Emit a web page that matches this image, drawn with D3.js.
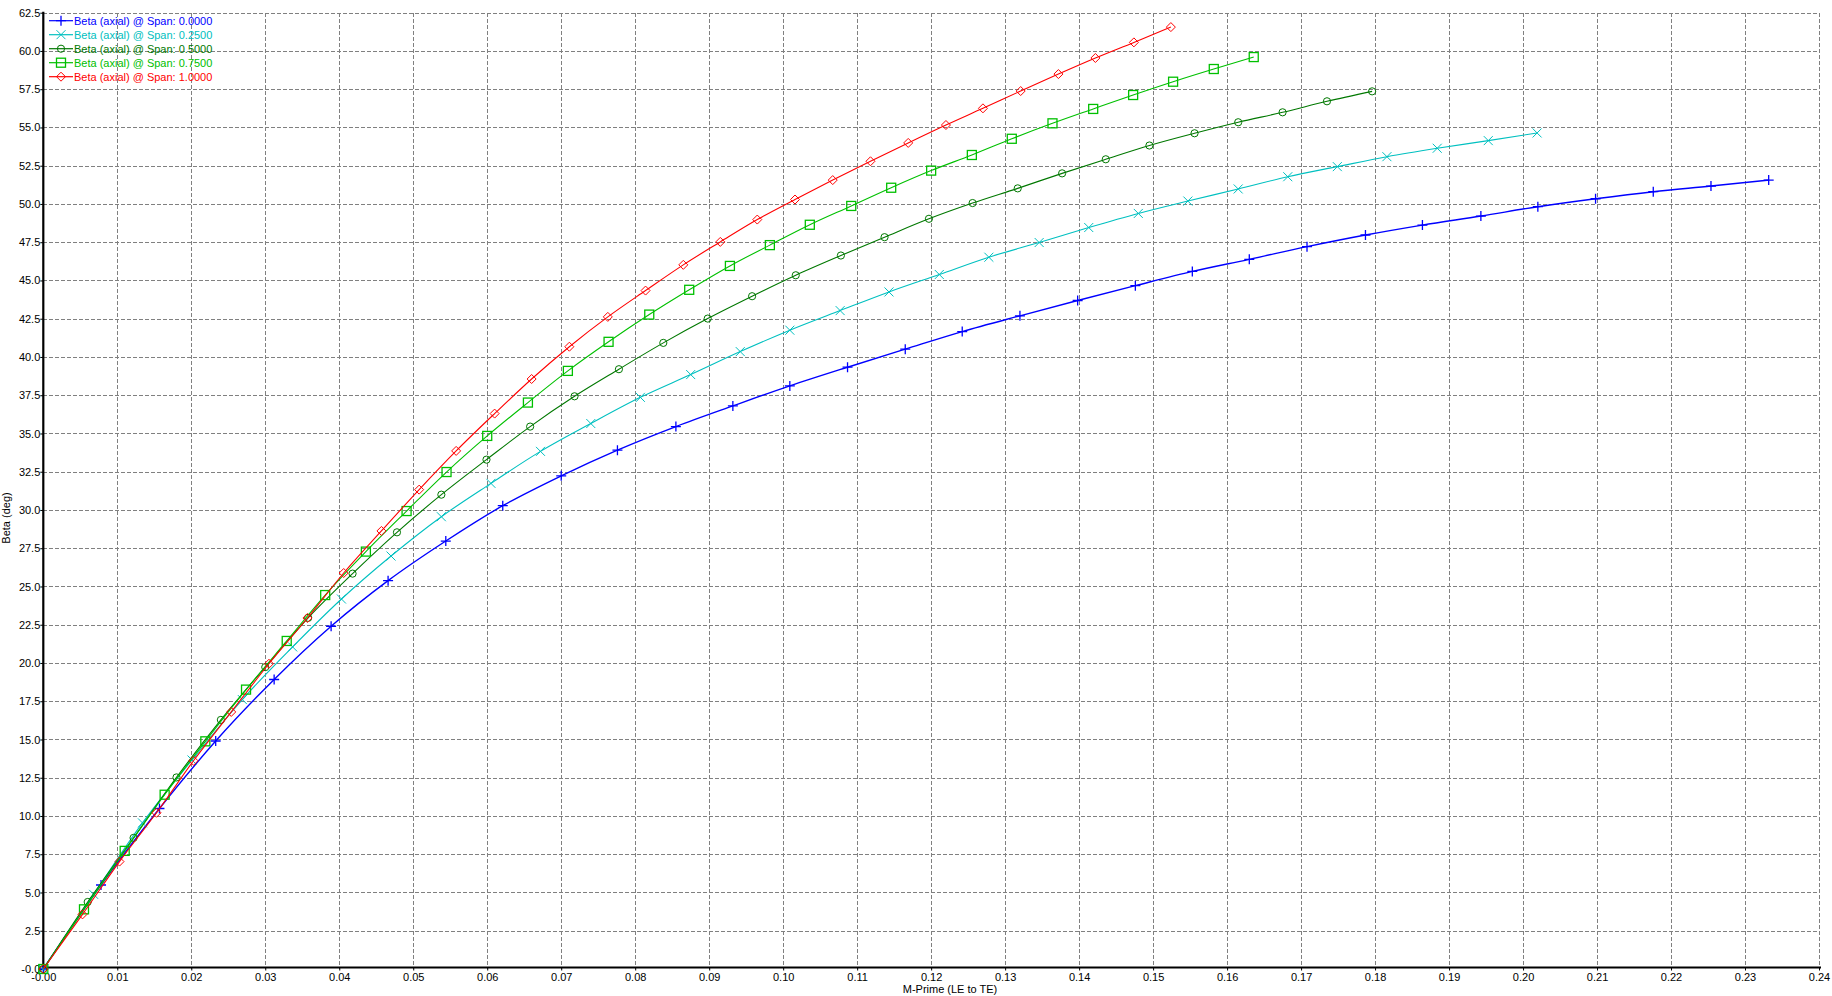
<!DOCTYPE html>
<html>
<head>
<meta charset="utf-8">
<script src="https://cdn.jsdelivr.net/npm/d3@7"></script>
<style>
  html, body { margin: 0; padding: 0; background: #fff; }
  svg { display: block; }
  text { font-family: "Liberation Sans", Arial, sans-serif; }
</style>
</head>
<body>
<svg id="chart" width="1832" height="996"></svg>
<script>
// ---------------- DATA ----------------
const seriesNames = [
  "Beta (axial) @ Span: 0.0000",
  "Beta (axial) @ Span: 0.2500",
  "Beta (axial) @ Span: 0.5000",
  "Beta (axial) @ Span: 0.7500",
  "Beta (axial) @ Span: 1.0000"
];

const span000_x = [0, 0.0078, 0.0157, 0.0233, 0.0312, 0.0389, 0.0466, 0.0544, 0.0621, 0.0700, 0.0776, 0.0855, 0.0932, 0.1009, 0.1087, 0.1165, 0.1242, 0.1320, 0.1398, 0.1476, 0.1553, 0.1630, 0.1708, 0.1787, 0.1864, 0.1943, 0.2020, 0.2098, 0.2176, 0.2254, 0.2332];
const span000_y = [0, 5.49, 10.49, 14.90, 18.92, 22.40, 25.38, 27.97, 30.28, 32.23, 33.91, 35.45, 36.80, 38.11, 39.33, 40.51, 41.66, 42.69, 43.69, 44.66, 45.59, 46.38, 47.21, 47.97, 48.62, 49.21, 49.82, 50.34, 50.80, 51.17, 51.56];

const span025_x = [0, 0.0068, 0.0134, 0.0201, 0.0269, 0.0337, 0.0403, 0.0470, 0.0538, 0.0605, 0.0672, 0.0740, 0.0807, 0.0875, 0.0942, 0.1009, 0.1077, 0.1143, 0.1211, 0.1278, 0.1346, 0.1413, 0.1480, 0.1547, 0.1615, 0.1682, 0.1749, 0.1816, 0.1884, 0.1953, 0.2019];
const span025_y = [0, 4.88, 9.55, 13.66, 17.61, 21.05, 24.18, 26.99, 29.56, 31.74, 33.83, 35.65, 37.36, 38.85, 40.35, 41.75, 43.03, 44.25, 45.39, 46.52, 47.48, 48.46, 49.38, 50.19, 50.98, 51.78, 52.44, 53.09, 53.64, 54.14, 54.64];

const span050_x = [0, 0.0060, 0.0122, 0.0180, 0.0240, 0.0300, 0.0358, 0.0418, 0.0478, 0.0538, 0.0599, 0.0658, 0.0718, 0.0778, 0.0838, 0.0898, 0.0958, 0.1017, 0.1078, 0.1137, 0.1197, 0.1256, 0.1317, 0.1377, 0.1436, 0.1495, 0.1556, 0.1615, 0.1675, 0.1735, 0.1796];
const span050_y = [0, 4.38, 8.57, 12.52, 16.28, 19.73, 22.95, 25.84, 28.54, 31.00, 33.29, 35.45, 37.43, 39.20, 40.92, 42.51, 43.97, 45.34, 46.63, 47.83, 49.03, 50.06, 51.02, 52.00, 52.92, 53.82, 54.62, 55.34, 55.99, 56.71, 57.36];

const span075_x = [0, 0.0055, 0.0110, 0.0164, 0.0219, 0.0274, 0.0329, 0.0381, 0.0436, 0.0491, 0.0545, 0.0600, 0.0655, 0.0709, 0.0764, 0.0819, 0.0873, 0.0928, 0.0982, 0.1036, 0.1092, 0.1146, 0.1200, 0.1255, 0.1309, 0.1364, 0.1419, 0.1473, 0.1527, 0.1582, 0.1636];
const span075_y = [0, 3.90, 7.72, 11.39, 14.88, 18.26, 21.44, 24.44, 27.28, 29.93, 32.48, 34.84, 37.02, 39.09, 40.99, 42.77, 44.39, 45.95, 47.31, 48.64, 49.87, 51.06, 52.18, 53.20, 54.26, 55.27, 56.21, 57.12, 57.99, 58.82, 59.60];

const span100_x = [0, 0.0053, 0.0103, 0.0153, 0.0203, 0.0254, 0.0305, 0.0357, 0.0406, 0.0457, 0.0508, 0.0558, 0.0610, 0.0660, 0.0711, 0.0763, 0.0814, 0.0865, 0.0915, 0.0965, 0.1016, 0.1067, 0.1118, 0.1169, 0.1220, 0.1270, 0.1321, 0.1372, 0.1422, 0.1474, 0.1524];
const span100_y = [0, 3.57, 7.02, 10.21, 13.61, 16.80, 19.95, 22.94, 25.88, 28.63, 31.33, 33.86, 36.30, 38.56, 40.67, 42.62, 44.34, 46.02, 47.52, 48.98, 50.29, 51.56, 52.79, 53.99, 55.16, 56.25, 57.38, 58.49, 59.54, 60.56, 61.56];

const xTickValues = [0, 0.01, 0.02, 0.03, 0.04, 0.05, 0.06, 0.07, 0.08, 0.09, 0.10, 0.11, 0.12, 0.13, 0.14, 0.15, 0.16, 0.17, 0.18, 0.19, 0.20, 0.21, 0.22, 0.23, 0.24];
const xTickLabels = ["-0.00", "0.01", "0.02", "0.03", "0.04", "0.05", "0.06", "0.07", "0.08", "0.09", "0.10", "0.11", "0.12", "0.13", "0.14", "0.15", "0.16", "0.17", "0.18", "0.19", "0.20", "0.21", "0.22", "0.23", "0.24"];
const yTickValues = [0, 2.5, 5, 7.5, 10, 12.5, 15, 17.5, 20, 22.5, 25, 27.5, 30, 32.5, 35, 37.5, 40, 42.5, 45, 47.5, 50, 52.5, 55, 57.5, 60, 62.5];
const yTickLabels = ["-0.0", "2.5", "5.0", "7.5", "10.0", "12.5", "15.0", "17.5", "20.0", "22.5", "25.0", "27.5", "30.0", "32.5", "35.0", "37.5", "40.0", "42.5", "45.0", "47.5", "50.0", "52.5", "55.0", "57.5", "60.0", "62.5"];

const xTitle = "M-Prime (LE to TE)";
const yTitle = "Beta (deg)";

// ---------------- STYLE ----------------
const colors = ["#0000ff", "#00c0c0", "#007800", "#00c000", "#ff0000"];
const markers = ["plus", "cross", "circle", "square", "diamond"];

const seriesX = [span000_x, span025_x, span050_x, span075_x, span100_x];
const seriesY = [span000_y, span025_y, span050_y, span075_y, span100_y];
const series = seriesNames.map((name, i) => ({
  name, color: colors[i], marker: markers[i],
  points: seriesX[i].map((xv, j) => ({ x: xv, y: seriesY[i][j] }))
}));

const svg = d3.select("#chart");
const plotLeft = 43.3, plotRight = 1819, plotTop = 12.7, plotBottom = 969;

const x = d3.scaleLinear().domain([0, 0.24]).range([plotLeft, plotRight]);
const y = d3.scaleLinear().domain([0, 62.5]).range([plotBottom, plotTop]);

// grid
const grid = svg.append("g").attr("stroke", "#808080").attr("stroke-width", 1)
  .attr("stroke-dasharray", "4,2").attr("shape-rendering", "crispEdges");
grid.selectAll("line.v").data(xTickValues.filter(v => v > 0)).enter().append("line")
  .attr("x1", d => Math.round(x(d)) + 0.5).attr("x2", d => Math.round(x(d)) + 0.5)
  .attr("y1", y(62.5)).attr("y2", y(0));
grid.selectAll("line.h").data(yTickValues.filter(v => v > 0)).enter().append("line")
  .attr("y1", d => Math.round(y(d)) + 0.5).attr("y2", d => Math.round(y(d)) + 0.5)
  .attr("x1", x(0)).attr("x2", x(0.24));

// axes
const xAxis = d3.axisBottom(x).tickValues(xTickValues)
  .tickFormat((d, i) => xTickLabels[i]).tickSize(3).tickSizeOuter(0).tickPadding(3);
const yAxis = d3.axisLeft(y).tickValues(yTickValues)
  .tickFormat((d, i) => yTickLabels[i]).tickSize(3).tickSizeOuter(0).tickPadding(0);

const gx = svg.append("g").attr("transform", `translate(0,${y(0) - 1.5})`).call(xAxis);
const gy = svg.append("g").attr("transform", `translate(${x(0)},0)`).call(yAxis);
[gx, gy].forEach(g => {
  g.select(".domain").attr("stroke", "#000").attr("stroke-width", 2.2);
  g.selectAll(".tick line").attr("stroke", "#000");
  g.selectAll(".tick text").attr("fill", "#000").style("font-size", "11px")
    .style("font-family", '"Liberation Sans", Arial, sans-serif');
});
gy.select(".domain").attr("d", `M0,${y(62.5) - 1}V${y(0)}`);
gx.select(".domain").attr("d", `M${x(0)},0H${x(0.24) + 2}`);

// titles
svg.append("text").attr("x", 950).attr("y", 993).attr("text-anchor", "middle")
  .style("font-size", "11px").attr("fill", "#000").text(xTitle);
svg.append("text").attr("transform", `translate(9.5,518) rotate(-90)`).attr("text-anchor", "middle")
  .style("font-size", "11px").attr("fill", "#000").text(yTitle);

// marker drawing
function drawMarker(sel, type, color) {
  if (type === "plus") {
    sel.append("path").attr("d", "M-5,0H5M0,-5V5").attr("stroke", color).attr("stroke-width", 1.3).attr("fill", "none");
  } else if (type === "cross") {
    sel.append("path").attr("d", "M-4.5,-4.5L4.5,4.5M-4.5,4.5L4.5,-4.5").attr("stroke", color).attr("stroke-width", 1).attr("fill", "none");
  } else if (type === "circle") {
    sel.append("circle").attr("r", 3.6).attr("stroke", color).attr("stroke-width", 1).attr("fill", "none");
  } else if (type === "square") {
    sel.append("rect").attr("x", -4.5).attr("y", -4.5).attr("width", 9).attr("height", 9)
      .attr("stroke", color).attr("stroke-width", 1.3).attr("fill", "none");
  } else if (type === "diamond") {
    sel.append("path").attr("d", "M0,-4.5L4.5,0L0,4.5L-4.5,0Z").attr("stroke", color).attr("stroke-width", 1).attr("fill", "none");
  }
}

// lines + markers
const line = d3.line().x(d => x(d.x)).y(d => y(d.y)).curve(d3.curveMonotoneX);
series.forEach((s, i) => {
  const g = svg.append("g");
  g.append("path").datum(s.points).attr("d", line).attr("fill", "none")
    .attr("stroke", s.color).attr("stroke-width", i === 0 ? 1.4 : 1.1);
  g.selectAll("g.m").data(s.points).enter().append("g")
    .attr("transform", d => `translate(${x(d.x)},${y(d.y)})`)
    .each(function () { drawMarker(d3.select(this), s.marker, s.color); });
});

// legend
const lg = svg.append("g");
series.forEach((s, i) => {
  const cy = 20.7 + i * 14;
  lg.append("line").attr("x1", 49).attr("x2", 73).attr("y1", cy).attr("y2", cy)
    .attr("stroke", s.color).attr("stroke-width", 1.2);
  const m = lg.append("g").attr("transform", `translate(61,${cy})`);
  drawMarker(m, s.marker, s.color);
  lg.append("text").attr("x", 74).attr("y", cy).attr("dy", "0.35em")
    .style("font-size", "11px").attr("fill", s.color).text(s.name);
});
</script>
</body>
</html>
